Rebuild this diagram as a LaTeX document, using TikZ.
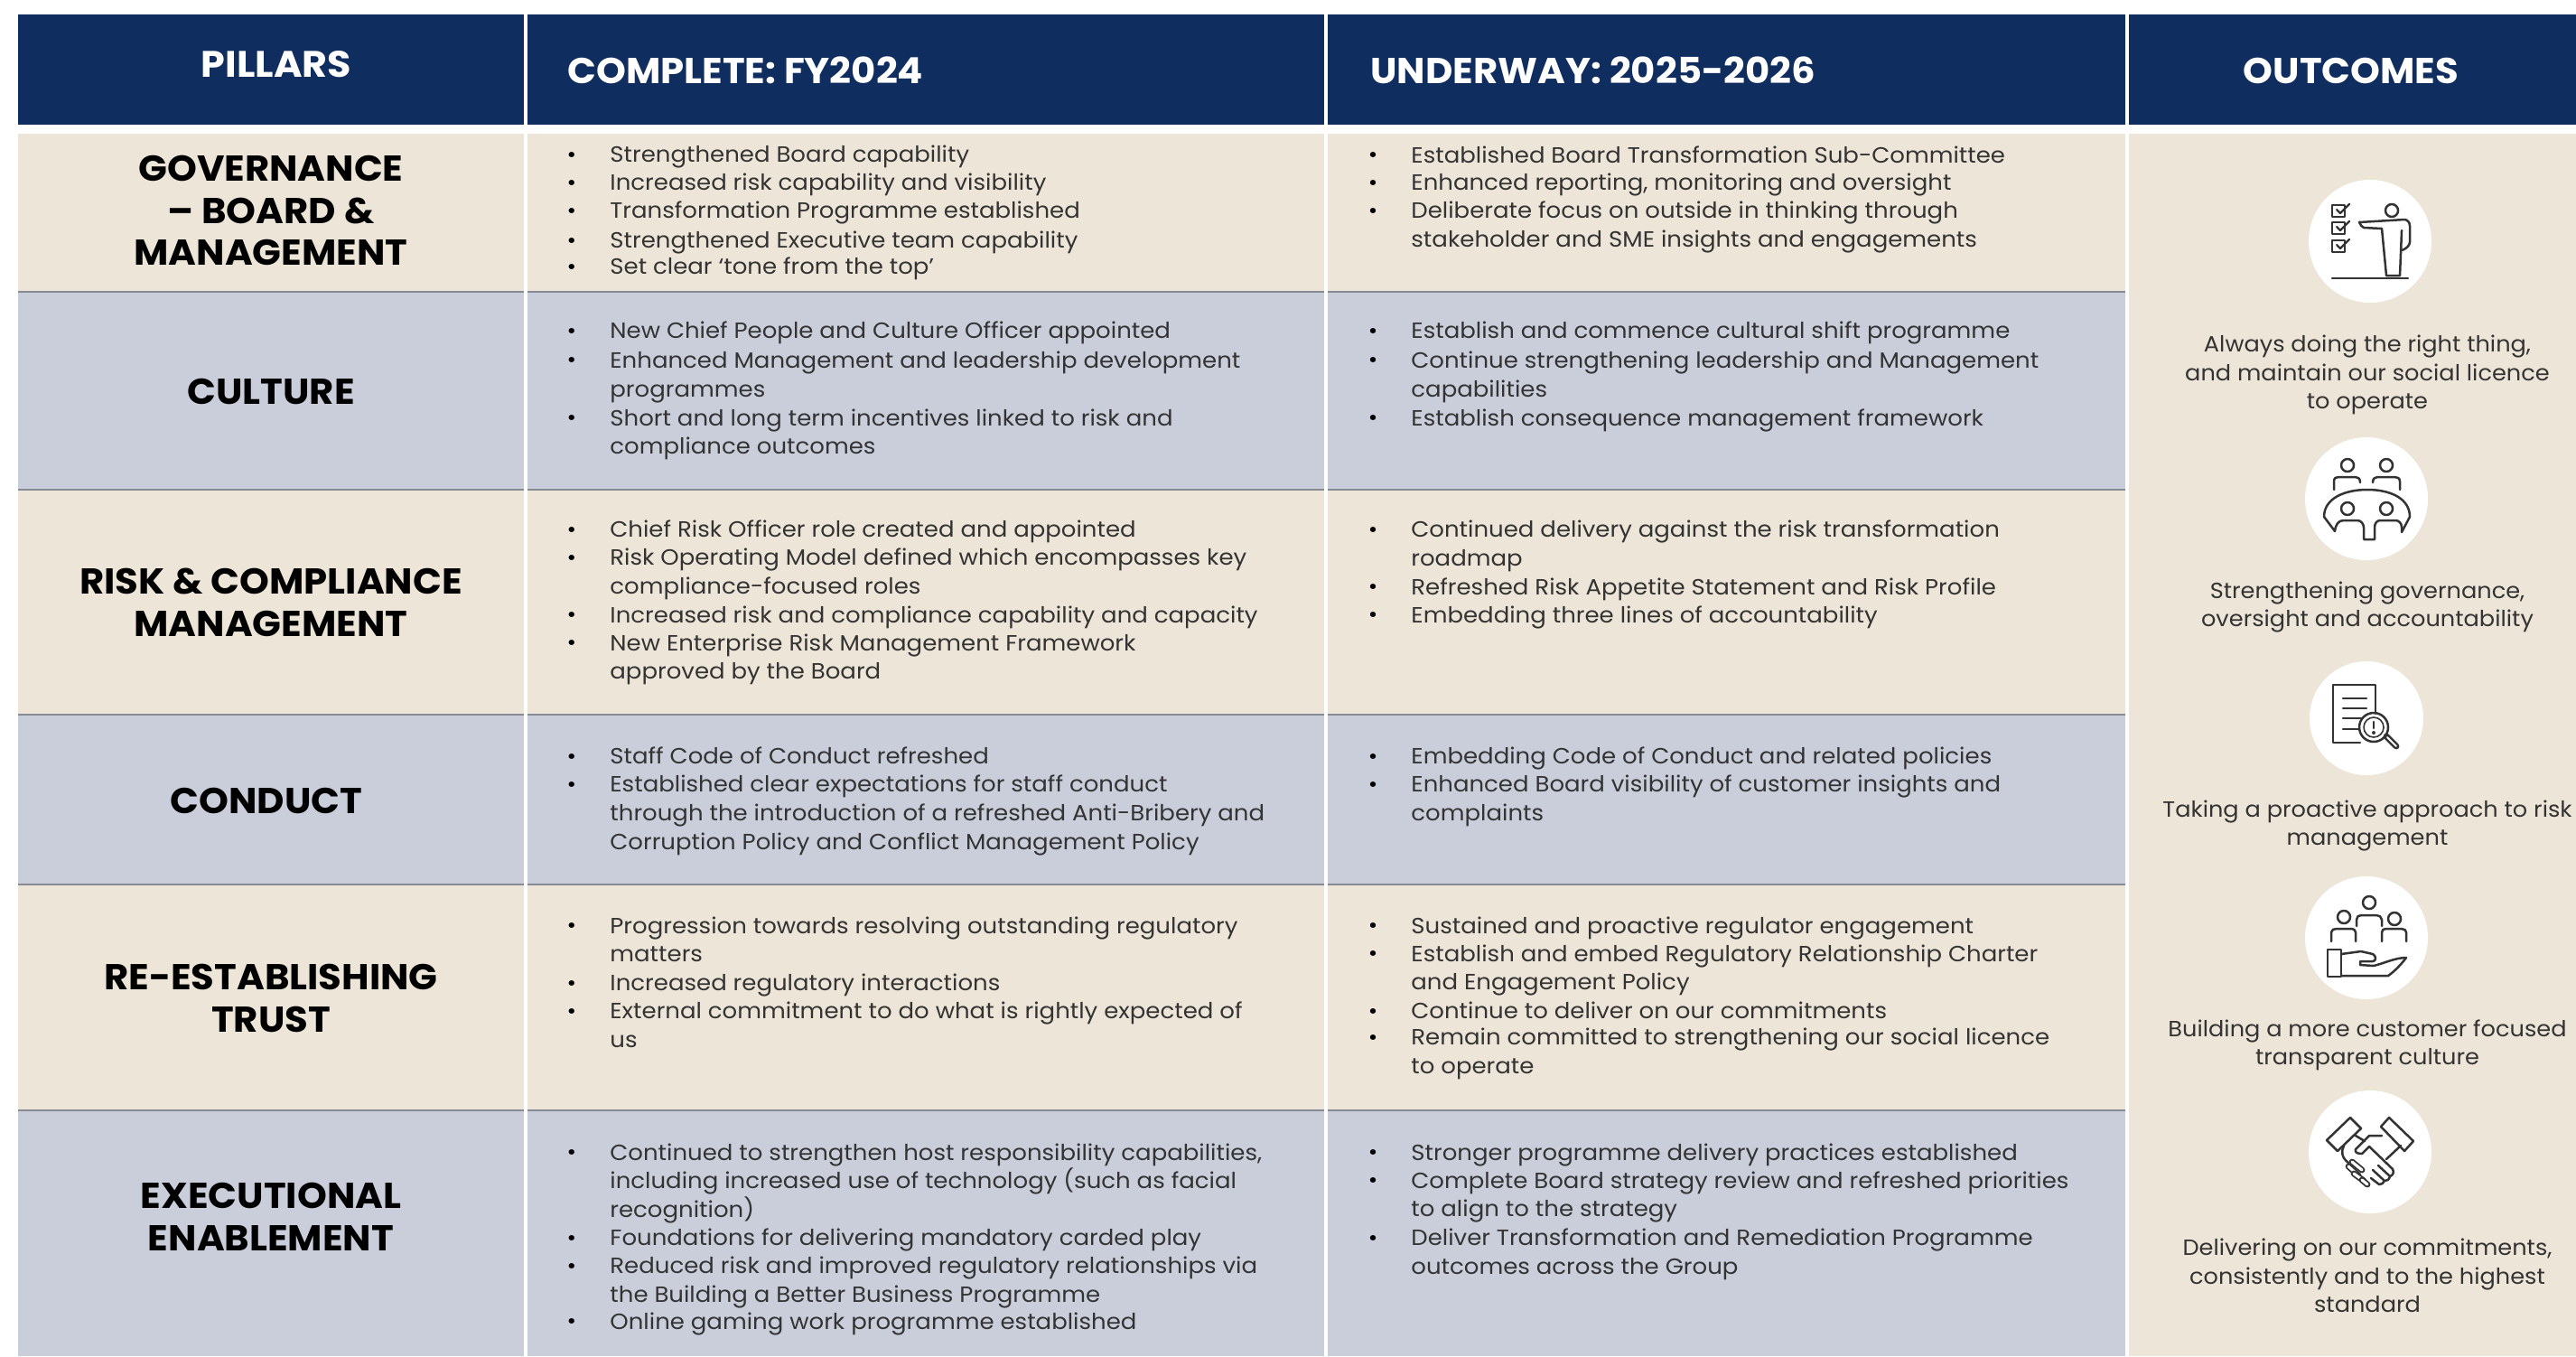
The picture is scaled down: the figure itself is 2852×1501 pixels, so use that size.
\documentclass[tikz,border=0pt]{standalone}
\usepackage{fontspec}
\usetikzlibrary{calc}
\newfontfamily\bodyf{Poppins}[FakeStretch=1.065]
\newfontfamily\outf{Poppins}[FakeStretch=1.05]
\newfontfamily\headf{Poppins Bold}[FakeStretch=1.05]
\definecolor{navy}{HTML}{0F2D5E}
\definecolor{beige}{HTML}{EDE6D8}
\definecolor{slate}{HTML}{C9CEDA}
\definecolor{rule}{HTML}{858A94}
\definecolor{ink}{HTML}{333333}
\tikzset{
  x=0.5pt,y=-0.5pt,
  item/.style={anchor=north west,inner sep=0pt,align=left,text=ink,font=\bodyf\fontsize{12.2}{15.85}\selectfont},
  dotmark/.style={inner sep=0pt,text=black,font=\bodyf\fontsize{12}{12}\selectfont},
  pillar/.style={inner sep=0pt,align=center,text=black,font=\headf\fontsize{19.9}{23.2}\selectfont},
  headtext/.style={inner sep=0pt,text=white,font=\headf\fontsize{19.9}{21}\selectfont},
  outcome/.style={inner sep=0pt,align=center,text=ink,font=\outf\fontsize{12.2}{15.7}\selectfont},
  disc/.style={fill=white,draw=none},
  icon/.style={draw=ink,line width=1.25pt,line cap=round,line join=round},
}
\newcommand{\bul}[4]{%
  \node[item] (#1) at (#2,{#3*1.819-10}) {#4};
  \node[dotmark] (#1b) at (#2-42,{#3*1.819+3}) {•};
}
\begin{document}
\begin{tikzpicture}
\useasboundingbox (0,0) rectangle (2852,1501);
\fill[white] (0,0) rectangle (2852,1501);
% header
\fill[navy] (20,16) rectangle (2852,138);
% rows
\fill[beige] (20,148) rectangle (2355,323);
\fill[slate] (20,323) rectangle (2355,542);
\fill[beige] (20,542) rectangle (2355,791);
\fill[slate] (20,791) rectangle (2355,979);
\fill[beige] (20,979) rectangle (2355,1229);
\fill[slate] (20,1229) rectangle (2355,1501);
\fill[beige] (2355,148) rectangle (2852,1501);
% rules
\foreach \yy in {323,542,791,979,1229}
  \draw[rule,line width=1.1pt] (20,\yy) -- (2355,\yy);
\foreach \xx in {582,1468,2355}
  \draw[white,line width=1.6pt] (\xx,16) -- (\xx,1501);
\fill[white] (20,138) rectangle (2852,148);
% heads
\node[headtext,font=\headf\fontsize{20.4}{21}\selectfont] (hp) at (306,71) {PILLARS};
\node[headtext,anchor=west] (hc) at (628,78) {COMPLETE: FY2024};
\node[headtext,anchor=west] (hu) at (1517,78) {UNDERWAY: 2025-2026};
\node[headtext] (ho) at (2603,78) {OUTCOMES};
% pillars
\node[pillar] (p1) at (300,233) {GOVERNANCE\\– BOARD \&\\MANAGEMENT};
\node[pillar] (p2) at (300,433) {CULTURE};
\node[pillar] (p3) at (300,667) {RISK \& COMPLIANCE\\MANAGEMENT};
\node[pillar] (p4) at (295,886) {CONDUCT};
\node[pillar] (p5) at (300,1105) {RE-ESTABLISHING\\TRUST};
\node[pillar] (p6) at (300,1347) {EXECUTIONAL\\ENABLEMENT};
% column 1
\bul{a1}{675}{94}{Strengthened Board capability}
\bul{a2}{675}{111}{Increased risk capability and visibility}
\bul{a3}{675}{128}{Transformation Programme established}
\bul{a4}{675}{146}{Strengthened Executive team capability}
\bul{a5}{675}{162}{Set clear ‘tone from the top’}
\bul{b1}{675}{201}{New Chief People and Culture Officer appointed}
\bul{b2}{675}{219}{Enhanced Management and leadership development\\programmes}
\bul{b3}{675}{254}{Short and long term incentives linked to risk and\\compliance outcomes}
\bul{c1}{675}{322}{Chief Risk Officer role created and appointed}
\bul{c2}{675}{339}{Risk Operating Model defined which encompasses key\\compliance-focused roles}
\bul{c3}{675}{374}{Increased risk and compliance capability and capacity}
\bul{c4}{675}{391}{New Enterprise Risk Management Framework\\approved by the Board}
\bul{d1}{675}{460}{Staff Code of Conduct refreshed}
\bul{d2}{675}{477}{Established clear expectations for staff conduct\\through the introduction of a refreshed Anti-Bribery and\\Corruption Policy and Conflict Management Policy}
\bul{e1}{675}{563}{Progression towards resolving outstanding regulatory\\matters}
\bul{e2}{675}{598}{Increased regulatory interactions}
\bul{e3}{675}{615}{External commitment to do what is rightly expected of\\us}
\bul{f1}{675}{701}{Continued to strengthen host responsibility capabilities,\\including increased use of technology (such as facial\\recognition)}
\bul{f2}{675}{753}{Foundations for delivering mandatory carded play}
\bul{f3}{675}{770}{Reduced risk and improved regulatory relationships via\\the Building a Better Business Programme}
\bul{f4}{675}{804}{Online gaming work programme established}
% column 2
\bul{g1}{1562}{94}{Established Board Transformation Sub-Committee}
\bul{g2}{1562}{111}{Enhanced reporting, monitoring and oversight}
\bul{g3}{1562}{128}{Deliberate focus on outside in thinking through\\stakeholder and SME insights and engagements}
\bul{h1}{1562}{201}{Establish and commence cultural shift programme}
\bul{h2}{1562}{219}{Continue strengthening leadership  and Management\\capabilities}
\bul{h3}{1562}{254}{Establish consequence management framework}
\bul{i1}{1562}{322}{Continued delivery against the risk transformation\\roadmap}
\bul{i2}{1562}{357}{Refreshed Risk Appetite Statement and Risk Profile}
\bul{i3}{1562}{374}{Embedding three lines of accountability}
\bul{j1}{1562}{460}{Embedding Code of Conduct and related policies}
\bul{j2}{1562}{477}{Enhanced Board visibility of  customer insights and\\complaints}
\bul{k1}{1562}{563}{Sustained and proactive regulator engagement}
\bul{k2}{1562}{580}{Establish and embed Regulatory Relationship Charter\\and Engagement Policy}
\bul{k3}{1562}{615}{Continue to deliver on our commitments}
\bul{k4}{1562}{631}{Remain committed to strengthening our social licence\\to operate}
\bul{l1}{1562}{701}{Stronger programme delivery practices established}
\bul{l2}{1562}{718}{Complete Board strategy review and refreshed priorities\\to align to the strategy}
\bul{l3}{1562}{753}{Deliver Transformation and Remediation Programme\\outcomes across the Group}
% outcomes text
\node[outcome] (o1) at (2621,415) {Always doing the right thing,\\and maintain our social licence\\to operate};
\node[outcome] (o2) at (2621,672) {Strengthening governance,\\oversight and accountability};
\node[outcome] (o3) at (2621,914) {Taking a proactive approach to risk\\management};
\node[outcome] (o4) at (2621,1157) {Building a more customer focused\\transparent culture};
\node[outcome] (o5) at (2621,1412) {Delivering on our commitments,\\consistently and to the highest\\standard};
% icon 1
\begin{scope}[shift={(2624,267)}]
\fill[disc] (0,0) circle (68);
\foreach \t in {-40,-21,-1}{
  \draw[icon,line width=1.4pt] (-42,\t) rectangle (-28,\t+13);
  \draw[icon,line width=1.1pt] (-37,\t+5) -- (-33,\t+9) -- (-23,\t-1);
}
\draw[icon] (24,-34) circle (7);
\draw[icon] (18,38) -- (13,-14) -- (-7,-15) .. controls (-9,-16) and (-11,-18) .. (-12,-21) -- (38,-24) .. controls (41,-24) and (44,-21) .. (44,-17) -- (44,1) .. controls (44,5) and (39,9) .. (35,10);
\draw[icon] (35,-12) -- (33,38) -- (18,38);
\draw[icon] (-42,41) -- (42,41);
\end{scope}
% icon 2
\begin{scope}[shift={(2620,552)}]
\fill[disc] (0,0) circle (68);
\draw[icon] (-21,-37) circle (7);
\draw[icon] (22,-37) circle (7);
\draw[icon] (-21,11) circle (7);
\draw[icon] (22,11) circle (7);
\draw[icon] (-36,-10) -- (-36,-19) .. controls (-36,-23) and (-34,-24) .. (-31,-24) -- (-12,-24) .. controls (-9,-24) and (-7,-22) .. (-7,-18);
\draw[icon] (7,-18) .. controls (7,-22) and (9,-24) .. (12,-24) -- (31,-24) .. controls (34,-24) and (37,-23) .. (37,-19) -- (37,-10);
\draw[icon] (-35,36) -- (-47,20) .. controls (-47,0) and (-25,-10) .. (1,-10) .. controls (27,-10) and (48,0) .. (48,20) -- (39,37) -- (39,32) .. controls (39,27) and (36,24) .. (32,24) -- (15,24) .. controls (11,24) and (9,28) .. (9,32) -- (9,45) -- (-3,45) -- (-3,32) .. controls (-3,28) and (-6,24) .. (-10,24) -- (-25,24) .. controls (-31,24) and (-34,28) .. (-35,36);
\end{scope}
% icon 3
\begin{scope}[shift={(2620,795)}]
\fill[disc] (0,0) circle (63);
\draw[icon] (10,-5) -- (10,-37) -- (-37,-37) -- (-37,27) -- (-7,27);
\draw[icon] (-26,-22) -- (0,-22);
\draw[icon] (-26,-11) -- (0,-11);
\draw[icon] (-26,0) -- (-6,0);
\draw[icon] (-26,12) -- (-8,12);
\draw[icon] (8,10) circle (16);
\draw[icon,line width=0.8pt] (8,10) circle (11);
\draw[icon,line width=1.4pt] (8,4) -- (8,11);
\fill[ink] (8,16) circle (2);
\draw[ink,line width=3.4pt,line cap=round] (22,20) -- (33,31);
\draw[white,line width=1pt,line cap=round] (23,21) -- (33,31);
\end{scope}
% icon 4
\begin{scope}[shift={(2620,1038)}]
\fill[disc] (0,0) circle (68);
\draw[icon] (3,-39) circle (7);
\draw[icon] (-25,-23) circle (7);
\draw[icon] (31,-21) circle (7);
\draw[icon] (-11,-13) -- (-11,-20) .. controls (-11,-23) and (-9,-25) .. (-6,-25) -- (11,-25) .. controls (14,-25) and (17,-23) .. (17,-20) -- (17,-13);
\draw[icon] (-39,4) -- (-39,-6) .. controls (-39,-9) and (-36,-10) .. (-33,-10) -- (-16,-10) .. controls (-14,-10) and (-12,-8) .. (-12,-6) -- (-12,4);
\draw[icon] (17,4) -- (17,-6) .. controls (17,-9) and (19,-10) .. (22,-10) -- (39,-10) .. controls (42,-10) and (44,-8) .. (44,-6) -- (44,4);
\draw[icon] (-43,13) rectangle (-28,43);
\draw[icon] (-28,18) -- (-6,15) -- (7,18) .. controls (11,20) and (11,26) .. (7,26) -- (-7,26) -- (-7,30) -- (8,31) .. controls (20,28) and (32,22) .. (44,22) .. controls (38,30) and (30,38) .. (24,42) -- (-28,42);
\end{scope}
% icon 5
\begin{scope}[shift={(2624,1275)}]
\fill[disc] (0,0) circle (68);
\draw[icon] (-48,-13) -- (-22,-38) -- (-10,-26) -- (-36,-1) -- cycle;
\draw[icon] (12,-28) -- (21,-38) -- (48,-12) -- (38,-1) -- cycle;
\draw[icon] (-16,-18) -- (-6,-12);
\draw[icon] (-29,-7) .. controls (-32,-1) and (-32,6) .. (-24,12);
\draw[icon] (13,-18) -- (-1,-18) -- (-16,-3) .. controls (-17,0) and (-15,2) .. (-9,2) -- (-1,-6) -- (25,19) .. controls (27,23) and (25,26) .. (22,27) -- (9,15);
\draw[icon] (22,27) .. controls (21,31) and (19,32) .. (16,32) -- (3,20);
\draw[icon] (16,32) .. controls (15,35) and (12,36) .. (10,36) -- (1,29);
\draw[icon] (34,-7) -- (18,8);
\foreach \ax/\ay/\bx/\by in {-20/11/-9/20,-24/16/-13/26,-18/24/-7/32,-9/31/-3/36}
  \draw[ink,line width=0.9pt,double=white,double distance=1.6pt,line cap=round] (\ax,\ay) -- (\bx,\by);
\end{scope}
\end{tikzpicture}
\end{document}
